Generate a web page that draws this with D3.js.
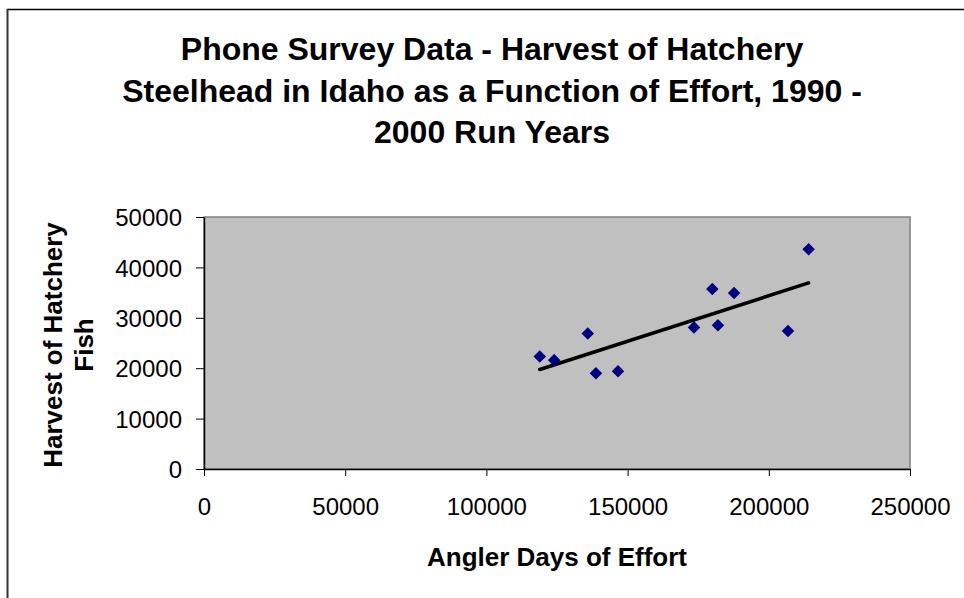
<!DOCTYPE html>
<html>
<head>
<meta charset="utf-8">
<script src="https://cdn.jsdelivr.net/npm/d3@7"></script>
<style>
  html, body { margin: 0; padding: 0; background: #fff; }
  svg { display: block; font-family: "Liberation Sans", Arial, sans-serif; }
</style>
</head>
<body>
<svg id="chart" width="964" height="598"></svg>
<script>
// Angler days of effort vs. hatchery steelhead harvest, one point per run year
const effort  = [118900, 124000, 135900, 138800, 146600, 173500, 180000, 182000, 187700, 206800, 214100];
const harvest = [22300, 21600, 26900, 19000, 19400, 28100, 35700, 28500, 34900, 27400, 43600];
const xTicks = [0, 50000, 100000, 150000, 200000, 250000];
const yTicks = [0, 10000, 20000, 30000, 40000, 50000];
const titleLines = [
  "Phone Survey Data - Harvest of Hatchery",
  "Steelhead in Idaho as a Function of Effort, 1990 -",
  "2000 Run Years"
];
const yTitleLines = ["Harvest of Hatchery", "Fish"];
const xTitle = "Angler Days of Effort";

const svg = d3.select("#chart");
const plot = { left: 204, top: 217, right: 910, bottom: 469 };

// outer chart frame (top and left edges visible)
svg.append("line").attr("x1", 7).attr("x2", 964).attr("y1", 9.5).attr("y2", 9.5)
  .attr("stroke", "#000").attr("stroke-width", 1.5);
svg.append("line").attr("x1", 7.5).attr("x2", 7.5).attr("y1", 9).attr("y2", 598)
  .attr("stroke", "#333").attr("stroke-width", 2);

const x = d3.scaleLinear().domain([0, 250000]).range([plot.left, plot.right]);
const y = d3.scaleLinear().domain([0, 50000]).range([plot.bottom, plot.top]);

// plot area
svg.append("rect")
  .attr("x", plot.left).attr("y", plot.top)
  .attr("width", plot.right - plot.left).attr("height", plot.bottom - plot.top)
  .attr("fill", "#c0c0c0").attr("stroke", "#808080").attr("stroke-width", 1.5);

// axes
const xAxis = svg.append("g").attr("transform", `translate(0,${plot.bottom})`)
  .call(d3.axisBottom(x).tickValues(xTicks).tickFormat(d3.format("d")).tickSizeInner(7).tickSizeOuter(0).tickPadding(22));
const yAxis = svg.append("g").attr("transform", `translate(${plot.left},0)`)
  .call(d3.axisLeft(y).tickValues(yTicks).tickFormat(d3.format("d")).tickSizeInner(8).tickSizeOuter(0).tickPadding(14));
[xAxis, yAxis].forEach(g => {
  g.select(".domain").attr("stroke", "#000").attr("stroke-width", 1.5);
  g.selectAll(".tick line").attr("stroke", "#000").attr("stroke-width", 1);
  g.selectAll(".tick text").attr("font-size", 24).attr("fill", "#000")
    .attr("font-family", "Liberation Sans, Arial, sans-serif");
});
yAxis.selectAll(".tick text").attr("dy", "0.36em");

// least-squares trendline across the observed effort range
const mx = d3.mean(effort), my = d3.mean(harvest);
const sxy = d3.sum(effort, (v, i) => (v - mx) * (harvest[i] - my));
const sxx = d3.sum(effort, v => (v - mx) * (v - mx));
const slope = sxy / sxx, intercept = my - slope * mx;
const xr = d3.extent(effort);
svg.append("line")
  .attr("x1", x(xr[0])).attr("y1", y(intercept + slope * xr[0]))
  .attr("x2", x(xr[1])).attr("y2", y(intercept + slope * xr[1]))
  .attr("stroke", "#000").attr("stroke-width", 3.5).attr("stroke-linecap", "round");

// data markers
const diamond = d3.symbol().type(d3.symbolDiamond2).size(100);
svg.append("g").selectAll("path").data(effort).join("path")
  .attr("d", diamond)
  .attr("transform", (d, i) => `translate(${x(d)},${y(harvest[i])})`)
  .attr("fill", "#000080");

// title
svg.append("g").selectAll("text").data(titleLines).join("text")
  .attr("x", 492).attr("y", (d, i) => 60 + i * 41.5)
  .attr("text-anchor", "middle").attr("font-size", 32).attr("font-weight", "bold")
  .text(d => d);

// x axis title
svg.append("text").attr("x", 557).attr("y", 566)
  .attr("text-anchor", "middle").attr("font-size", 26).attr("font-weight", "bold")
  .text(xTitle);

// y axis title
svg.append("g").attr("transform", "translate(0,345) rotate(-90)")
  .selectAll("text").data(yTitleLines).join("text")
  .attr("x", 0).attr("y", (d, i) => 62 + i * 31)
  .attr("text-anchor", "middle").attr("font-size", 26).attr("font-weight", "bold")
  .text(d => d);
</script>
</body>
</html>
